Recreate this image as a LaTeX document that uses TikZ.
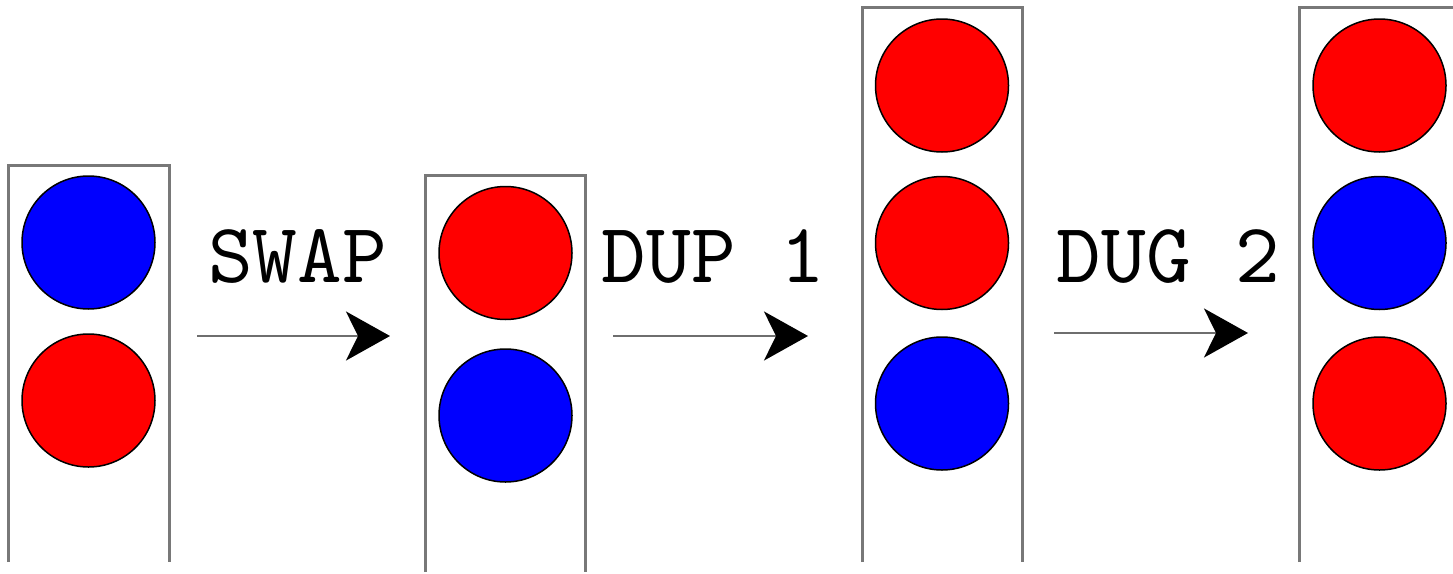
\documentclass[tikz,border=0pt]{standalone}
\usepackage{fontspec}
\usetikzlibrary{arrows.meta}
\newfontfamily\opfont{lmmono10-regular}[Extension=.otf]
\tikzset{
  stackwall/.style={draw={rgb,255:red,120;green,120;blue,120}, line width=3pt},
  ball/.style={circle, draw=black, line width=1.5pt, minimum size=133pt, inner sep=0pt},
  redball/.style={ball, fill={rgb,255:red,255;green,0;blue,0}},
  blueball/.style={ball, fill={rgb,255:red,0;green,0;blue,255}},
  oplabel/.style={anchor=base, inner sep=0pt, font=\opfont\fontsize{85}{100}\selectfont},
  oparrow/.style={draw={rgb,255:red,110;green,110;blue,110}, line width=2.5pt,
    -{Stealth[length=44pt, width=49pt, inset=12pt, black]}}
}
\begin{document}
\begin{tikzpicture}[x=1pt, y=-1pt]
\useasboundingbox (0,0) rectangle (1453,573);
% stacks
\draw[stackwall] (8,562) -- (8,165) -- (169,165) -- (169,562);
\draw[stackwall] (425,572) -- (425,175) -- (585,175) -- (585,572);
\draw[stackwall] (862,562) -- (862,7) -- (1022,7) -- (1022,562);
\draw[stackwall] (1299,562) -- (1299,7) -- (1459,7) -- (1459,562);
% balls
\node[blueball] (s1a) at (88.5,242.5) {};
\node[redball]  (s1b) at (88.5,400.5) {};
\node[redball]  (s2a) at (505.5,253) {};
\node[blueball] (s2b) at (505.5,415.5) {};
\node[redball]  (s3a) at (942,85.5) {};
\node[redball]  (s3b) at (942,243) {};
\node[blueball] (s3c) at (942,403.5) {};
\node[redball]  (s4a) at (1379.5,85.5) {};
\node[blueball] (s4b) at (1379.5,243) {};
\node[redball]  (s4c) at (1379.5,403.5) {};
% labels
\node[oplabel] (l1) at (297.5,282) {SWAP};
\node[oplabel] (l2) at (713.5,282) {DUP 1};
\node[oplabel] (l3) at (1168.5,282) {DUG 2};
% arrows
\coordinate (a1s) at (197,336); \coordinate (a1e) at (390,336);
\coordinate (a2s) at (613,336); \coordinate (a2e) at (808,336);
\coordinate (a3s) at (1054,333); \coordinate (a3e) at (1248,333);
\draw[oparrow] (a1s) -- (a1e);
\draw[oparrow] (a2s) -- (a2e);
\draw[oparrow] (a3s) -- (a3e);
\end{tikzpicture}
\end{document}
